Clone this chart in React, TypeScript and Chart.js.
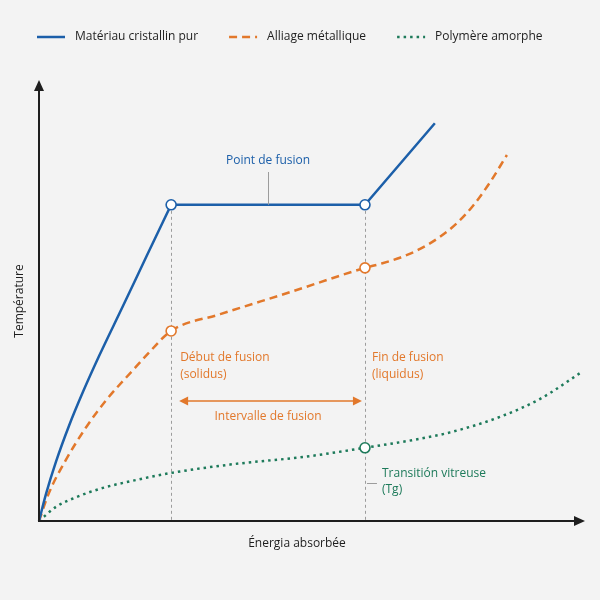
import React, { useEffect, useRef } from "react";
import { Chart, registerables } from "chart.js";

Chart.register(...registerables);

// ---- data (energy in %, temperature in %) ----
const seriesLabels = ["Matériau cristallin pur", "Alliage métallique", "Polymère amorphe"];

const crystalX = [0, 1.3, 3.1, 5.5, 8.1, 11.0, 15.4, 19.8, 24.2, 59.7, 72.5];
const crystalY = [0, 6.2, 13.4, 21.6, 29.4, 37.4, 48.8, 60.3, 71.7, 71.7, 90.2];
const crystalCorner = 8; // start of melting plateau
const crystalMarkers = [8, 9];

const alloyX = [0, 1.8, 4.9, 8.6, 12.3, 17.2, 20.3, 24.2, 33.2, 46.0, 59.7, 62.5, 66.1, 69.8, 73.4, 76.6, 79.5, 82.6, 85.7];
const alloyY = [0, 6.3, 13.8, 21.2, 27.4, 34.2, 38.4, 43.1, 46.9, 51.9, 57.4, 58.3, 59.7, 61.7, 64.4, 67.6, 71.5, 76.8, 83.0];
const alloyMarkers = [7, 10];

const polymerX = [0, 3.1, 6.8, 11.7, 17.8, 24.2, 35.0, 48.9, 59.7, 70.0, 75.3, 84.4, 91.8, 99.3];
const polymerY = [0, 3.2, 5.4, 7.5, 9.3, 10.9, 12.8, 14.6, 16.6, 18.7, 20.1, 23.6, 27.7, 33.7];
const polymerMarkers = [8];

const axisTitles = { x: "Énergia absorbée", y: "Température" };
const notes = {
  melt: "Point de fusion",
  solidus: ["Début de fusion", "(solidus)"],
  liquidus: ["Fin de fusion", "(liquidus)"],
  interval: "Intervalle de fusion",
  glass: ["Transitión vitreuse", "(Tg)"],
};

const BLUE = "#1c5fa9";
const ORANGE = "#e2782b";
const GREEN = "#1d7a5a";
const GREY = "#9c9c9c";
const INK = "#1e1e1e";
const FONT = '"Open Sans", "Noto Sans", sans-serif';

const pts = (xs: number[], ys: number[]) => xs.map((x, i) => ({ x, y: ys[i] }));
const radii = (xs: number[], marks: number[], offset = 0) =>
  xs.map((_, i) => (marks.includes(i + offset) ? 5 : 0));

function arrowHead(ctx: CanvasRenderingContext2D, x: number, y: number, dir: "up" | "right" | "left", len: number, half: number) {
  ctx.beginPath();
  if (dir === "up") {
    ctx.moveTo(x, y);
    ctx.lineTo(x - half, y + len);
    ctx.lineTo(x + half, y + len);
  } else if (dir === "right") {
    ctx.moveTo(x, y);
    ctx.lineTo(x - len, y - half);
    ctx.lineTo(x - len, y + half);
  } else {
    ctx.moveTo(x, y);
    ctx.lineTo(x + len, y - half);
    ctx.lineTo(x + len, y + half);
  }
  ctx.closePath();
  ctx.fill();
}

const overlay = {
  id: "overlay",
  beforeDatasetsDraw(chart: any) {
    const { ctx, chartArea, scales } = chart;
    const x = scales.x;
    const y = scales.y;
    ctx.save();
    ctx.strokeStyle = GREY;
    ctx.lineWidth = 1;
    ctx.setLineDash([3, 3]);
    const top = y.getPixelForValue(crystalY[crystalMarkers[0]]) + 6;
    for (const gx of [crystalX[crystalMarkers[0]], crystalX[crystalMarkers[1]]]) {
      const px = Math.round(x.getPixelForValue(gx)) + 0.5;
      ctx.beginPath();
      ctx.moveTo(px, top);
      ctx.lineTo(px, chartArea.bottom);
      ctx.stroke();
    }
    ctx.restore();
  },
  afterDatasetsDraw(chart: any) {
    const { ctx, chartArea, scales } = chart;
    const x = scales.x;
    const y = scales.y;
    ctx.save();
    // axes
    ctx.strokeStyle = INK;
    ctx.fillStyle = INK;
    ctx.lineWidth = 2;
    const ox = chartArea.left;
    const oy = chartArea.bottom;
    ctx.beginPath();
    ctx.moveTo(ox, oy);
    ctx.lineTo(ox, chartArea.top + 8);
    ctx.moveTo(ox - 1, oy);
    ctx.lineTo(chartArea.right - 8, oy);
    ctx.stroke();
    arrowHead(ctx, ox, chartArea.top, "up", 11, 5);
    arrowHead(ctx, chartArea.right, oy, "right", 11, 5);

    // axis titles
    ctx.font = `12px ${FONT}`;
    ctx.fillStyle = INK;
    ctx.textAlign = "center";
    ctx.textBaseline = "middle";
    ctx.fillText(axisTitles.x, 297, 544);
    ctx.save();
    ctx.translate(20, 301);
    ctx.rotate(-Math.PI / 2);
    ctx.fillText(axisTitles.y, 0, 0);
    ctx.restore();

    const sx = x.getPixelForValue(crystalX[crystalMarkers[0]]);
    const lx = x.getPixelForValue(crystalX[crystalMarkers[1]]);
    const plateau = y.getPixelForValue(crystalY[crystalMarkers[0]]);

    // melting point label
    ctx.font = `12px ${FONT}`;
    ctx.fillStyle = BLUE;
    const mx = (sx + lx) / 2;
    ctx.fillText(notes.melt, mx, 161);
    ctx.strokeStyle = GREY;
    ctx.lineWidth = 1;
    ctx.beginPath();
    ctx.moveTo(Math.round(mx) + 0.5, 172);
    ctx.lineTo(Math.round(mx) + 0.5, plateau);
    ctx.stroke();

    // solidus / liquidus
    ctx.fillStyle = ORANGE;
    ctx.textAlign = "left";
    ctx.fillText(notes.solidus[0], sx + 9, 358);
    ctx.fillText(notes.solidus[1], sx + 9, 375);
    ctx.fillText(notes.liquidus[0], lx + 7, 358);
    ctx.fillText(notes.liquidus[1], lx + 7, 375);

    // interval arrow
    ctx.strokeStyle = ORANGE;
    ctx.lineWidth = 1.5;
    ctx.beginPath();
    ctx.moveTo(sx + 12, 401);
    ctx.lineTo(lx - 6, 401);
    ctx.stroke();
    arrowHead(ctx, sx + 8, 401, "left", 9, 4.5);
    arrowHead(ctx, lx - 3, 401, "right", 9, 4.5);
    ctx.textAlign = "center";
    ctx.fillText(notes.interval, (sx + lx) / 2, 417);

    // glass transition
    ctx.fillStyle = GREEN;
    ctx.textAlign = "left";
    ctx.fillText(notes.glass[0], lx + 17, 474);
    ctx.fillText(notes.glass[1], lx + 17, 490);
    ctx.strokeStyle = GREY;
    ctx.lineWidth = 1;
    ctx.beginPath();
    ctx.moveTo(lx + 2, 483.5);
    ctx.lineTo(lx + 12, 483.5);
    ctx.stroke();
    ctx.restore();
  },
  afterDraw(chart: any) {
    const { ctx } = chart;
    ctx.save();
    ctx.font = `12px ${FONT}`;
    ctx.textBaseline = "middle";
    ctx.textAlign = "left";
    let cx = 37;
    const cy = 37;
    chart.data.datasets
      .filter((ds: any) => ds.label)
      .forEach((ds: any) => {
        ctx.strokeStyle = ds.borderColor;
        ctx.lineWidth = ds.borderWidth;
        ctx.setLineDash(ds.borderDash || []);
        ctx.lineCap = "butt";
        ctx.beginPath();
        ctx.moveTo(cx, cy);
        ctx.lineTo(cx + 28, cy);
        ctx.stroke();
        ctx.setLineDash([]);
        ctx.fillStyle = INK;
        ctx.fillText(ds.label, cx + 38, cy);
        cx += 38 + ctx.measureText(ds.label).width + 31;
      });
    ctx.restore();
  },
};

export default function App() {
  const ref = useRef<HTMLCanvasElement | null>(null);
  useEffect(() => {
    if (!ref.current) return;
    const common = {
      pointBackgroundColor: "#ffffff",
      pointBorderWidth: 1.6,
      pointHoverRadius: 0,
      pointHitRadius: 0,
      fill: false,
    };
    const cX1 = crystalX.slice(0, crystalCorner + 1);
    const cY1 = crystalY.slice(0, crystalCorner + 1);
    const cX2 = crystalX.slice(crystalCorner);
    const cY2 = crystalY.slice(crystalCorner);
    const chart = new Chart(ref.current, {
      type: "line",
      data: {
        datasets: [
          {
            ...common,
            label: seriesLabels[0],
            data: pts(cX1, cY1),
            borderColor: BLUE,
            pointBorderColor: BLUE,
            borderWidth: 2.5,
            cubicInterpolationMode: "monotone",
            pointRadius: 0,
            order: 2,
          },
          {
            ...common,
            label: "",
            data: pts(cX2, cY2),
            borderColor: BLUE,
            pointBorderColor: BLUE,
            borderWidth: 2.5,
            tension: 0,
            pointRadius: radii(cX2, crystalMarkers, crystalCorner),
            order: 1,
          },
          {
            ...common,
            label: seriesLabels[1],
            data: pts(alloyX, alloyY),
            borderColor: ORANGE,
            pointBorderColor: ORANGE,
            borderWidth: 2.5,
            borderDash: [8, 5],
            cubicInterpolationMode: "monotone",
            pointRadius: radii(alloyX, alloyMarkers),
            order: 3,
          },
          {
            ...common,
            label: seriesLabels[2],
            data: pts(polymerX, polymerY),
            borderColor: GREEN,
            pointBorderColor: GREEN,
            borderWidth: 2.5,
            borderDash: [2.5, 4],
            cubicInterpolationMode: "monotone",
            pointRadius: radii(polymerX, polymerMarkers),
            order: 4,
          },
        ],
      } as any,
      options: {
        animation: false,
        responsive: false,
        devicePixelRatio: 1,
        clip: false as any,
        layout: { padding: { left: 39, right: 15, top: 80, bottom: 79 } },
        plugins: { legend: { display: false }, tooltip: { enabled: false } },
        scales: {
          x: { type: "linear", min: 0, max: 100, display: false },
          y: { type: "linear", min: 0, max: 100, display: false },
        },
        events: [],
      } as any,
      plugins: [overlay],
    });
    return () => chart.destroy();
  }, []);
  return (
    <div style={{ position: "fixed", left: 0, top: 0, width: 600, height: 600, background: "#f3f3f3" }}>
      <canvas ref={ref} width={600} height={600} style={{ display: "block" }} />
    </div>
  );
}
